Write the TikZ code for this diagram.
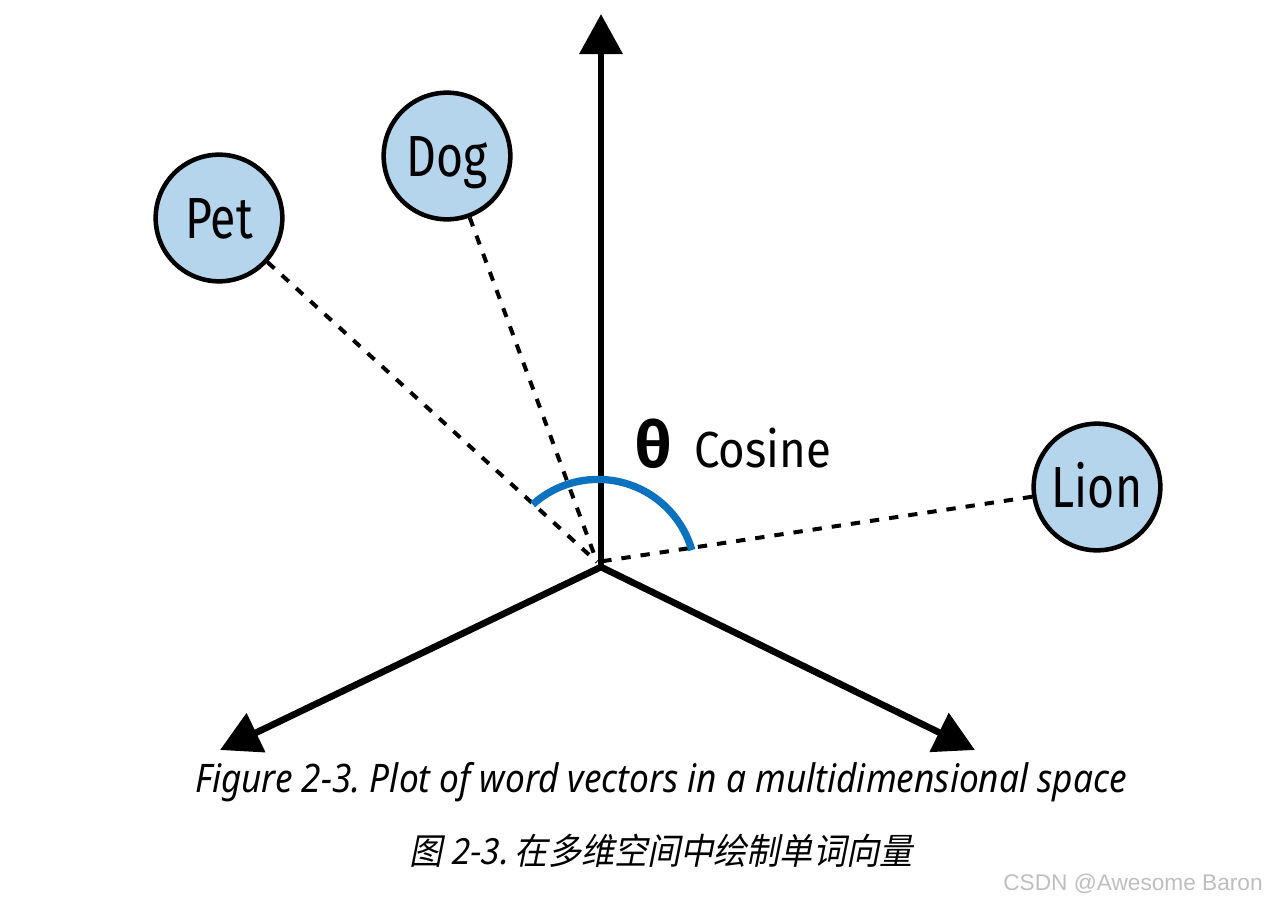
\documentclass[tikz,border=0pt]{standalone}
\usepackage{fontspec}
\usetikzlibrary{arrows.meta,calc}
\setmainfont{Fira Sans}
\newfontfamily\circfont[FakeStretch=0.8]{Fira Sans}
\newfontfamily\cosfont[FakeStretch=0.9]{Fira Sans}
\newfontfamily\thetafont{Fira Sans}
\newfontfamily\capfont[FakeStretch=0.895]{Noto Sans}
\newfontfamily\cjkfont[FakeSlant=0.2,FakeStretch=0.92]{Noto Sans CJK SC}
\newfontfamily\wmfont{Liberation Sans}
\definecolor{bubble}{RGB}{180,213,236}
\definecolor{arcblue}{RGB}{11,114,192}
\definecolor{wmgray}{RGB}{190,190,190}
\frenchspacing
\begin{document}
\begin{tikzpicture}[x=0.75pt,y=-0.75pt,
  axis/.style={line width=5pt,-{Triangle[width=31.5pt,length=30pt]}},
  word/.style={circle,draw=black,line width=3.4pt,fill=bubble,minimum size=95pt,inner sep=0pt,
    font=\circfont\fontsize{43.5pt}{50pt}\selectfont,text height=30pt,text depth=0pt},
  vec/.style={line width=3pt,dash pattern=on 7pt off 7.5pt},
  cosarc/.style={line width=5.5pt,draw=arcblue}]
\useasboundingbox (0,0) rectangle (1267,903);
\coordinate (O) at (601,567);
\coordinate (V) at (597,562);
\coordinate (up) at (601,14);
\coordinate (left) at (220,750);
\coordinate (right) at (975,750);
\coordinate (ac) at (598,577);
% vectors
\node[word] (pet) at (219,218) {Pet};
\node[word] (dog) at (447,156) {Dog};
\node[word] (lion) at (1097,487) {Lion};
\draw[vec] (pet) -- (V);
\draw[vec] (dog) -- (V);
\draw[vec] (lion) -- (V);
% axes
\draw[axis] (O) -- (up);
\draw[axis] (O) -- (left);
\draw[axis] (O) -- (right);
% angle arc
\draw[cosarc] ($(ac)+(132:73.2pt)$) arc[start angle=132,end angle=16,radius=73.2pt];
\node[anchor=base,inner sep=0pt,font=\thetafont\bfseries\fontsize{48pt}{50pt}\selectfont] (theta) at (654,467) {θ};
\node[anchor=base west,inner sep=0pt,font=\cosfont\fontsize{38pt}{44pt}\selectfont] (cosine) at (694,467) {Cosine};
% captions
\node[anchor=base,inner sep=0pt,font=\capfont\itshape\fontsize{29.5pt}{34pt}\selectfont] (cap1) at (661,792) {Figure 2-3. Plot of word vectors in a multidimensional space};
\node[anchor=base,inner sep=0pt,font=\cjkfont\fontsize{27pt}{32pt}\selectfont] (cap2) at (661,864) {图 2-3. 在多维空间中绘制单词向量};
\node[anchor=base east,inner sep=0pt,font=\wmfont\fontsize{17pt}{20pt}\selectfont,text=wmgray] (wm) at (1263,890) {CSDN @Awesome Baron};
\end{tikzpicture}
\end{document}
